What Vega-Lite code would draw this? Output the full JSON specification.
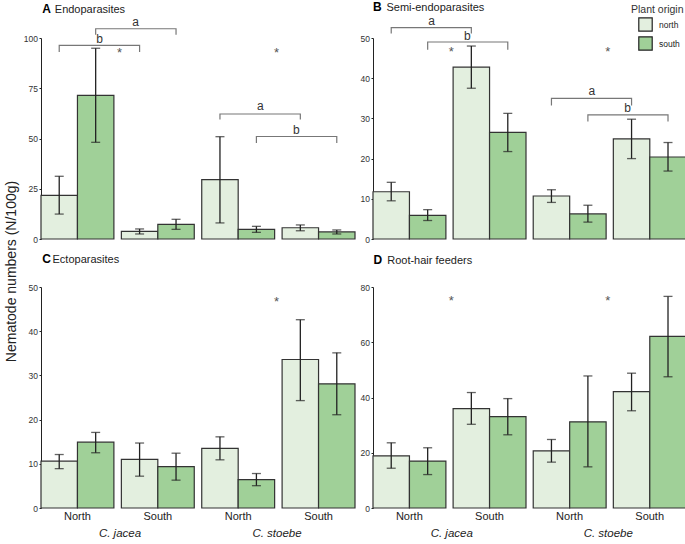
{
  "$schema": "https://vega.github.io/schema/vega-lite/v6.json",
  "padding": {"left": 4, "top": 0, "right": 0, "bottom": 0},
  "background": "white",
  "columns": 2,
  "bounds": "flush",
  "spacing": {"row": 48, "column": 18},
  "resolve": {"legend": {"color": "independent"}},
  "datasets": {
    "bars": [
      {"panel":"A","group":"C. jacea North","origin":"north","mean":21.7,"lo":12.4,"hi":31.2},
      {"panel":"A","group":"C. jacea North","origin":"south","mean":71.5,"lo":48.1,"hi":94.9},
      {"panel":"A","group":"C. jacea South","origin":"north","mean":3.8,"lo":2.5,"hi":5.0},
      {"panel":"A","group":"C. jacea South","origin":"south","mean":7.3,"lo":4.8,"hi":9.8},
      {"panel":"A","group":"C. stoebe North","origin":"north","mean":29.5,"lo":8.0,"hi":50.9},
      {"panel":"A","group":"C. stoebe North","origin":"south","mean":4.8,"lo":3.3,"hi":6.3},
      {"panel":"A","group":"C. stoebe South","origin":"north","mean":5.6,"lo":4.1,"hi":7.0},
      {"panel":"A","group":"C. stoebe South","origin":"south","mean":3.5,"lo":2.5,"hi":4.5},
      {"panel":"B","group":"C. jacea North","origin":"north","mean":11.75,"lo":9.5,"hi":14.1},
      {"panel":"B","group":"C. jacea North","origin":"south","mean":5.9,"lo":4.6,"hi":7.3},
      {"panel":"B","group":"C. jacea South","origin":"north","mean":42.75,"lo":37.5,"hi":48.0},
      {"panel":"B","group":"C. jacea South","origin":"south","mean":26.5,"lo":21.75,"hi":31.25},
      {"panel":"B","group":"C. stoebe North","origin":"north","mean":10.7,"lo":9.1,"hi":12.25},
      {"panel":"B","group":"C. stoebe North","origin":"south","mean":6.25,"lo":4.2,"hi":8.4},
      {"panel":"B","group":"C. stoebe South","origin":"north","mean":24.9,"lo":20.0,"hi":29.8},
      {"panel":"B","group":"C. stoebe South","origin":"south","mean":20.4,"lo":16.9,"hi":24.0},
      {"panel":"C","group":"C. jacea North","origin":"north","mean":10.6,"lo":8.9,"hi":12.1},
      {"panel":"C","group":"C. jacea North","origin":"south","mean":14.9,"lo":12.5,"hi":17.1},
      {"panel":"C","group":"C. jacea South","origin":"north","mean":11.0,"lo":7.2,"hi":14.7},
      {"panel":"C","group":"C. jacea South","origin":"south","mean":9.35,"lo":6.3,"hi":12.4},
      {"panel":"C","group":"C. stoebe North","origin":"north","mean":13.5,"lo":10.9,"hi":16.1},
      {"panel":"C","group":"C. stoebe North","origin":"south","mean":6.4,"lo":5.05,"hi":7.8},
      {"panel":"C","group":"C. stoebe South","origin":"north","mean":33.6,"lo":24.3,"hi":42.6},
      {"panel":"C","group":"C. stoebe South","origin":"south","mean":28.1,"lo":21.1,"hi":35.1},
      {"panel":"D","group":"C. jacea North","origin":"north","mean":18.9,"lo":14.4,"hi":23.6},
      {"panel":"D","group":"C. jacea North","origin":"south","mean":17.0,"lo":12.1,"hi":21.8},
      {"panel":"D","group":"C. jacea South","origin":"north","mean":36.0,"lo":30.3,"hi":41.8},
      {"panel":"D","group":"C. jacea South","origin":"south","mean":33.1,"lo":26.5,"hi":39.6},
      {"panel":"D","group":"C. stoebe North","origin":"north","mean":20.7,"lo":16.6,"hi":24.8},
      {"panel":"D","group":"C. stoebe North","origin":"south","mean":31.2,"lo":14.9,"hi":47.8},
      {"panel":"D","group":"C. stoebe South","origin":"north","mean":42.1,"lo":35.2,"hi":48.8},
      {"panel":"D","group":"C. stoebe South","origin":"south","mean":62.1,"lo":47.5,"hi":76.6}
    ],
    "brackets": [
      {"panel":"A","id":"A1","group":"C. jacea North","origin":"south","y":101.6,"k":1},
      {"panel":"A","id":"A1","group":"C. jacea North","origin":"south","y":104.6,"k":2},
      {"panel":"A","id":"A1","group":"C. jacea South","origin":"south","y":104.6,"k":3},
      {"panel":"A","id":"A1","group":"C. jacea South","origin":"south","y":101.6,"k":4},
      {"panel":"A","id":"A2","group":"C. jacea North","origin":"north","y":93.0,"k":1},
      {"panel":"A","id":"A2","group":"C. jacea North","origin":"north","y":96.3,"k":2},
      {"panel":"A","id":"A2","group":"C. jacea South","origin":"north","y":96.3,"k":3},
      {"panel":"A","id":"A2","group":"C. jacea South","origin":"north","y":93.0,"k":4},
      {"panel":"A","id":"A3","group":"C. stoebe North","origin":"north","y":59.4,"k":1},
      {"panel":"A","id":"A3","group":"C. stoebe North","origin":"north","y":62.2,"k":2},
      {"panel":"A","id":"A3","group":"C. stoebe South","origin":"north","y":62.2,"k":3},
      {"panel":"A","id":"A3","group":"C. stoebe South","origin":"north","y":59.4,"k":4},
      {"panel":"A","id":"A4","group":"C. stoebe North","origin":"south","y":47.8,"k":1},
      {"panel":"A","id":"A4","group":"C. stoebe North","origin":"south","y":51.0,"k":2},
      {"panel":"A","id":"A4","group":"C. stoebe South","origin":"south","y":51.0,"k":3},
      {"panel":"A","id":"A4","group":"C. stoebe South","origin":"south","y":47.8,"k":4},
      {"panel":"B","id":"B1","group":"C. jacea North","origin":"north","y":51.1,"k":1},
      {"panel":"B","id":"B1","group":"C. jacea North","origin":"north","y":52.6,"k":2},
      {"panel":"B","id":"B1","group":"C. jacea South","origin":"north","y":52.6,"k":3},
      {"panel":"B","id":"B1","group":"C. jacea South","origin":"north","y":51.1,"k":4},
      {"panel":"B","id":"B2","group":"C. jacea North","origin":"south","y":47.1,"k":1},
      {"panel":"B","id":"B2","group":"C. jacea North","origin":"south","y":49.0,"k":2},
      {"panel":"B","id":"B2","group":"C. jacea South","origin":"south","y":49.0,"k":3},
      {"panel":"B","id":"B2","group":"C. jacea South","origin":"south","y":47.1,"k":4},
      {"panel":"B","id":"B3","group":"C. stoebe North","origin":"north","y":33.2,"k":1},
      {"panel":"B","id":"B3","group":"C. stoebe North","origin":"north","y":35.0,"k":2},
      {"panel":"B","id":"B3","group":"C. stoebe South","origin":"north","y":35.0,"k":3},
      {"panel":"B","id":"B3","group":"C. stoebe South","origin":"north","y":33.2,"k":4},
      {"panel":"B","id":"B4","group":"C. stoebe North","origin":"south","y":29.2,"k":1},
      {"panel":"B","id":"B4","group":"C. stoebe North","origin":"south","y":30.9,"k":2},
      {"panel":"B","id":"B4","group":"C. stoebe South","origin":"south","y":30.9,"k":3},
      {"panel":"B","id":"B4","group":"C. stoebe South","origin":"south","y":29.2,"k":4}
    ],
    "letters": [
      {"panel":"A","group":"C. jacea South","origin":"north","y":106.1,"label":"a"},
      {"panel":"A","group":"C. jacea North","origin":"south","y":97.5,"label":"b"},
      {"panel":"A","group":"C. stoebe North","origin":"south","y":64.3,"label":"a"},
      {"panel":"A","group":"C. stoebe South","origin":"north","y":52.4,"label":"b"},
      {"panel":"B","group":"C. jacea North","origin":"south","y":53.3,"label":"a"},
      {"panel":"B","group":"C. jacea South","origin":"north","y":49.4,"label":"b"},
      {"panel":"B","group":"C. stoebe North","origin":"south","y":35.8,"label":"a"},
      {"panel":"B","group":"C. stoebe South","origin":"north","y":31.5,"label":"b"}
    ],
    "stars": [
      {"panel":"A","species":"C. jacea","y":90.5},
      {"panel":"A","species":"C. stoebe","y":90.5},
      {"panel":"B","species":"C. jacea","y":45.4},
      {"panel":"B","species":"C. stoebe","y":45.4},
      {"panel":"C","species":"C. stoebe","y":45.7},
      {"panel":"D","species":"C. jacea","y":73.5},
      {"panel":"D","species":"C. stoebe","y":73.5}
    ]
  },
  "concat": [
    {
      "width": 314, "height": 201,
      "resolve": {"scale": {"x": "independent"}, "axis": {"x": "independent"}},
      "layer": [
        {"layer": [
          {"data": {"name": "bars"}, "transform": [{"filter": "datum.panel == 'A'"}],
           "mark": {"type": "bar", "stroke": "#333", "strokeWidth": 1.2},
           "encoding": {
             "x": {"field": "group", "type": "nominal", "scale": {"domain": ["C. jacea North","C. jacea South","C. stoebe North","C. stoebe South"], "paddingInner": 0.093, "paddingOuter": 0},
               "axis": {"orient": "bottom", "labels": false, "domain": false, "ticks": false, "title": "A", "titleFontSize": 12, "titleFontWeight": "bold", "titleColor": "#000", "titleAngle": 0, "titleAlign": "left", "titleBaseline": "alphabetic", "titleX": 0.7, "titleY": -226.5}},
             "xOffset": {"field": "origin", "type": "nominal", "scale": {"domain": ["north","south"], "paddingInner": 0, "paddingOuter": 0}},
             "y": {"field": "mean", "type": "quantitative", "scale": {"domain": [0, 100], "nice": false}, "axis": {"values": [0,25,50,75,100], "title": null}},
             "color": {"field": "origin", "type": "nominal", "scale": {"domain": ["north","south"], "range": ["#e3efdf","#a0d098"]}, "legend": null}
           }},
          {"data": {"name": "bars"}, "transform": [{"filter": "datum.panel == 'A'"}],
           "mark": {"type": "rule", "color": "#222", "strokeWidth": 1.3},
           "encoding": {"x": {"field": "group", "type": "nominal"}, "xOffset": {"field": "origin", "type": "nominal"}, "y": {"field": "lo", "type": "quantitative"}, "y2": {"field": "hi"}}},
          {"data": {"name": "bars"}, "transform": [{"filter": "datum.panel == 'A'"}],
           "mark": {"type": "tick", "orient": "horizontal", "color": "#222", "size": 9, "thickness": 1.3},
           "encoding": {"x": {"field": "group", "type": "nominal"}, "xOffset": {"field": "origin", "type": "nominal"}, "y": {"field": "lo", "type": "quantitative"}}},
          {"data": {"name": "bars"}, "transform": [{"filter": "datum.panel == 'A'"}],
           "mark": {"type": "tick", "orient": "horizontal", "color": "#222", "size": 9, "thickness": 1.3},
           "encoding": {"x": {"field": "group", "type": "nominal"}, "xOffset": {"field": "origin", "type": "nominal"}, "y": {"field": "hi", "type": "quantitative"}}},
          {"data": {"name": "brackets"}, "transform": [{"filter": "datum.panel == 'A'"}],
           "mark": {"type": "line", "color": "#777", "strokeWidth": 1.2},
           "encoding": {"x": {"field": "group", "type": "nominal"}, "xOffset": {"field": "origin", "type": "nominal"}, "y": {"field": "y", "type": "quantitative"}, "detail": {"field": "id"}, "order": {"field": "k"}}},
          {"data": {"name": "letters"}, "transform": [{"filter": "datum.panel == 'A' && datum.origin == 'south'"}],
           "mark": {"type": "text", "fontSize": 12, "color": "#333", "baseline": "alphabetic", "dx": 4},
           "encoding": {"x": {"field": "group", "type": "nominal"}, "xOffset": {"field": "origin", "type": "nominal"}, "y": {"field": "y", "type": "quantitative"}, "text": {"field": "label"}}},
          {"data": {"name": "letters"}, "transform": [{"filter": "datum.panel == 'A' && datum.origin == 'north'"}],
           "mark": {"type": "text", "fontSize": 12, "color": "#333", "baseline": "alphabetic", "dx": -4},
           "encoding": {"x": {"field": "group", "type": "nominal"}, "xOffset": {"field": "origin", "type": "nominal"}, "y": {"field": "y", "type": "quantitative"}, "text": {"field": "label"}}}
        ]},
        {"data": {"name": "stars"}, "transform": [{"filter": "datum.panel == 'A'"}],
         "mark": {"type": "text", "text": "*", "fontSize": 13, "color": "#555", "baseline": "alphabetic"},
         "encoding": {"x": {"field": "species", "type": "nominal", "scale": {"domain": ["C. jacea","C. stoebe"], "paddingInner": 0.0467, "paddingOuter": 0},
           "axis": {"orient": "bottom", "labels": false, "domain": false, "ticks": false, "title": "Endoparasites", "titleFontSize": 11, "titleFontWeight": "normal", "titleColor": "#222", "titleAngle": 0, "titleAlign": "left", "titleBaseline": "alphabetic", "titleX": 13.3, "titleY": -226.5}},
           "y": {"field": "y", "type": "quantitative"}}}
      ]
    },
    {
      "width": 313, "height": 201,
      "resolve": {"scale": {"x": "independent"}, "axis": {"x": "independent"}},
      "layer": [
        {"layer": [
          {"data": {"name": "bars"}, "transform": [{"filter": "datum.panel == 'B'"}],
           "mark": {"type": "bar", "stroke": "#333", "strokeWidth": 1.2},
           "encoding": {
             "x": {"field": "group", "type": "nominal", "scale": {"domain": ["C. jacea North","C. jacea South","C. stoebe North","C. stoebe South"], "paddingInner": 0.093, "paddingOuter": 0},
               "axis": {"orient": "bottom", "labels": false, "domain": false, "ticks": false, "title": "B", "titleFontSize": 12, "titleFontWeight": "bold", "titleColor": "#000", "titleAngle": 0, "titleAlign": "left", "titleBaseline": "alphabetic", "titleX": -0.5, "titleY": -228.3}},
             "xOffset": {"field": "origin", "type": "nominal", "scale": {"domain": ["north","south"], "paddingInner": 0, "paddingOuter": 0}},
             "y": {"field": "mean", "type": "quantitative", "scale": {"domain": [0, 50], "nice": false}, "axis": {"values": [0,10,20,30,40,50], "title": null}},
             "color": {"field": "origin", "type": "nominal", "scale": {"domain": ["north","south"], "range": ["#e3efdf","#a0d098"]},
               "legend": {"title": "Plant origin", "orient": "none", "legendX": 258, "legendY": -33.5, "padding": 0, "titleFontSize": 10.5, "titleFontWeight": "normal", "titleColor": "#333", "titlePadding": 2, "labelFontSize": 8.5, "labelColor": "#222", "labelOffset": 6, "symbolType": "square", "symbolSize": 180, "symbolStrokeColor": "#222", "symbolStrokeWidth": 1.2, "symbolOpacity": 1, "rowPadding": 0, "symbolOffset": 7}}
           }},
          {"data": {"name": "bars"}, "transform": [{"filter": "datum.panel == 'B'"}],
           "mark": {"type": "rule", "color": "#222", "strokeWidth": 1.3},
           "encoding": {"x": {"field": "group", "type": "nominal"}, "xOffset": {"field": "origin", "type": "nominal"}, "y": {"field": "lo", "type": "quantitative"}, "y2": {"field": "hi"}}},
          {"data": {"name": "bars"}, "transform": [{"filter": "datum.panel == 'B'"}],
           "mark": {"type": "tick", "orient": "horizontal", "color": "#222", "size": 9, "thickness": 1.3},
           "encoding": {"x": {"field": "group", "type": "nominal"}, "xOffset": {"field": "origin", "type": "nominal"}, "y": {"field": "lo", "type": "quantitative"}}},
          {"data": {"name": "bars"}, "transform": [{"filter": "datum.panel == 'B'"}],
           "mark": {"type": "tick", "orient": "horizontal", "color": "#222", "size": 9, "thickness": 1.3},
           "encoding": {"x": {"field": "group", "type": "nominal"}, "xOffset": {"field": "origin", "type": "nominal"}, "y": {"field": "hi", "type": "quantitative"}}},
          {"data": {"name": "brackets"}, "transform": [{"filter": "datum.panel == 'B'"}],
           "mark": {"type": "line", "color": "#777", "strokeWidth": 1.2},
           "encoding": {"x": {"field": "group", "type": "nominal"}, "xOffset": {"field": "origin", "type": "nominal"}, "y": {"field": "y", "type": "quantitative"}, "detail": {"field": "id"}, "order": {"field": "k"}}},
          {"data": {"name": "letters"}, "transform": [{"filter": "datum.panel == 'B' && datum.origin == 'south'"}],
           "mark": {"type": "text", "fontSize": 12, "color": "#333", "baseline": "alphabetic", "dx": 4},
           "encoding": {"x": {"field": "group", "type": "nominal"}, "xOffset": {"field": "origin", "type": "nominal"}, "y": {"field": "y", "type": "quantitative"}, "text": {"field": "label"}}},
          {"data": {"name": "letters"}, "transform": [{"filter": "datum.panel == 'B' && datum.origin == 'north'"}],
           "mark": {"type": "text", "fontSize": 12, "color": "#333", "baseline": "alphabetic", "dx": -4},
           "encoding": {"x": {"field": "group", "type": "nominal"}, "xOffset": {"field": "origin", "type": "nominal"}, "y": {"field": "y", "type": "quantitative"}, "text": {"field": "label"}}}
        ]},
        {"data": {"name": "stars"}, "transform": [{"filter": "datum.panel == 'B'"}],
         "mark": {"type": "text", "text": "*", "fontSize": 13, "color": "#555", "baseline": "alphabetic"},
         "encoding": {"x": {"field": "species", "type": "nominal", "scale": {"domain": ["C. jacea","C. stoebe"], "paddingInner": 0.0467, "paddingOuter": 0},
           "axis": {"orient": "bottom", "labels": false, "domain": false, "ticks": false, "title": "Semi-endoparasites", "titleFontSize": 11, "titleFontWeight": "normal", "titleColor": "#222", "titleAngle": 0, "titleAlign": "left", "titleBaseline": "alphabetic", "titleX": 13, "titleY": -228.3}},
           "y": {"field": "y", "type": "quantitative"}}}
      ]
    },
    {
      "width": 314, "height": 221,
      "resolve": {"scale": {"x": "independent"}, "axis": {"x": "independent"}},
      "layer": [
        {"layer": [
          {"data": {"name": "bars"}, "transform": [{"filter": "datum.panel == 'C'"}],
           "mark": {"type": "bar", "stroke": "#333", "strokeWidth": 1.2},
           "encoding": {
             "x": {"field": "group", "type": "nominal", "scale": {"domain": ["C. jacea North","C. jacea South","C. stoebe North","C. stoebe South"], "paddingInner": 0.093, "paddingOuter": 0},
               "axis": {"orient": "bottom", "labelExpr": "split(datum.label, ' ')[2]", "domain": false, "ticks": false, "labelFontSize": 11, "labelColor": "#222", "labelPadding": 2, "labelAngle": 0,
                 "title": "C", "titleFontSize": 12, "titleFontWeight": "bold", "titleColor": "#000", "titleAngle": 0, "titleAlign": "left", "titleBaseline": "alphabetic", "titleX": 0.7, "titleY": -245.3}},
             "xOffset": {"field": "origin", "type": "nominal", "scale": {"domain": ["north","south"], "paddingInner": 0, "paddingOuter": 0}},
             "y": {"field": "mean", "type": "quantitative", "scale": {"domain": [0, 50], "nice": false}, "axis": {"values": [0,10,20,30,40,50], "title": "Nematode numbers (N/100g)", "titleFontSize": 14, "titleFontWeight": "normal", "titleColor": "#222", "titleY": -16, "titlePadding": 10}},
             "color": {"field": "origin", "type": "nominal", "scale": {"domain": ["north","south"], "range": ["#e3efdf","#a0d098"]}, "legend": null}
           }},
          {"data": {"name": "bars"}, "transform": [{"filter": "datum.panel == 'C'"}],
           "mark": {"type": "rule", "color": "#222", "strokeWidth": 1.3},
           "encoding": {"x": {"field": "group", "type": "nominal"}, "xOffset": {"field": "origin", "type": "nominal"}, "y": {"field": "lo", "type": "quantitative"}, "y2": {"field": "hi"}}},
          {"data": {"name": "bars"}, "transform": [{"filter": "datum.panel == 'C'"}],
           "mark": {"type": "tick", "orient": "horizontal", "color": "#222", "size": 9, "thickness": 1.3},
           "encoding": {"x": {"field": "group", "type": "nominal"}, "xOffset": {"field": "origin", "type": "nominal"}, "y": {"field": "lo", "type": "quantitative"}}},
          {"data": {"name": "bars"}, "transform": [{"filter": "datum.panel == 'C'"}],
           "mark": {"type": "tick", "orient": "horizontal", "color": "#222", "size": 9, "thickness": 1.3},
           "encoding": {"x": {"field": "group", "type": "nominal"}, "xOffset": {"field": "origin", "type": "nominal"}, "y": {"field": "hi", "type": "quantitative"}}}
        ]},
        {"data": {"name": "stars"}, "transform": [{"filter": "datum.panel == 'C'"}],
         "mark": {"type": "text", "text": "*", "fontSize": 13, "color": "#555", "baseline": "alphabetic"},
         "encoding": {"x": {"field": "species", "type": "nominal", "scale": {"domain": ["C. jacea","C. stoebe"], "paddingInner": 0.0467, "paddingOuter": 0},
           "axis": {"orient": "bottom", "domain": false, "ticks": false, "labelFontStyle": "italic", "labelFontSize": 11.5, "labelColor": "#222", "labelPadding": 19.5, "labelAngle": 0,
             "title": "Ectoparasites", "titleFontSize": 11, "titleFontWeight": "normal", "titleColor": "#222", "titleAngle": 0, "titleAlign": "left", "titleBaseline": "alphabetic", "titleX": 11, "titleY": -245.3}},
           "y": {"field": "y", "type": "quantitative"}}}
      ]
    },
    {
      "width": 313, "height": 221,
      "resolve": {"scale": {"x": "independent"}, "axis": {"x": "independent"}},
      "layer": [
        {"layer": [
          {"data": {"name": "bars"}, "transform": [{"filter": "datum.panel == 'D'"}],
           "mark": {"type": "bar", "stroke": "#333", "strokeWidth": 1.2},
           "encoding": {
             "x": {"field": "group", "type": "nominal", "scale": {"domain": ["C. jacea North","C. jacea South","C. stoebe North","C. stoebe South"], "paddingInner": 0.093, "paddingOuter": 0},
               "axis": {"orient": "bottom", "labelExpr": "split(datum.label, ' ')[2]", "domain": false, "ticks": false, "labelFontSize": 11, "labelColor": "#222", "labelPadding": 2, "labelAngle": 0,
                 "title": "D", "titleFontSize": 12, "titleFontWeight": "bold", "titleColor": "#000", "titleAngle": 0, "titleAlign": "left", "titleBaseline": "alphabetic", "titleX": 0, "titleY": -244.5}},
             "xOffset": {"field": "origin", "type": "nominal", "scale": {"domain": ["north","south"], "paddingInner": 0, "paddingOuter": 0}},
             "y": {"field": "mean", "type": "quantitative", "scale": {"domain": [0, 80], "nice": false}, "axis": {"values": [0,20,40,60,80], "title": null}},
             "color": {"field": "origin", "type": "nominal", "scale": {"domain": ["north","south"], "range": ["#e3efdf","#a0d098"]}, "legend": null}
           }},
          {"data": {"name": "bars"}, "transform": [{"filter": "datum.panel == 'D'"}],
           "mark": {"type": "rule", "color": "#222", "strokeWidth": 1.3},
           "encoding": {"x": {"field": "group", "type": "nominal"}, "xOffset": {"field": "origin", "type": "nominal"}, "y": {"field": "lo", "type": "quantitative"}, "y2": {"field": "hi"}}},
          {"data": {"name": "bars"}, "transform": [{"filter": "datum.panel == 'D'"}],
           "mark": {"type": "tick", "orient": "horizontal", "color": "#222", "size": 9, "thickness": 1.3},
           "encoding": {"x": {"field": "group", "type": "nominal"}, "xOffset": {"field": "origin", "type": "nominal"}, "y": {"field": "lo", "type": "quantitative"}}},
          {"data": {"name": "bars"}, "transform": [{"filter": "datum.panel == 'D'"}],
           "mark": {"type": "tick", "orient": "horizontal", "color": "#222", "size": 9, "thickness": 1.3},
           "encoding": {"x": {"field": "group", "type": "nominal"}, "xOffset": {"field": "origin", "type": "nominal"}, "y": {"field": "hi", "type": "quantitative"}}}
        ]},
        {"data": {"name": "stars"}, "transform": [{"filter": "datum.panel == 'D'"}],
         "mark": {"type": "text", "text": "*", "fontSize": 13, "color": "#555", "baseline": "alphabetic"},
         "encoding": {"x": {"field": "species", "type": "nominal", "scale": {"domain": ["C. jacea","C. stoebe"], "paddingInner": 0.0467, "paddingOuter": 0},
           "axis": {"orient": "bottom", "domain": false, "ticks": false, "labelFontStyle": "italic", "labelFontSize": 11.5, "labelColor": "#222", "labelPadding": 19.5, "labelAngle": 0,
             "title": "Root-hair feeders", "titleFontSize": 11, "titleFontWeight": "normal", "titleColor": "#222", "titleAngle": 0, "titleAlign": "left", "titleBaseline": "alphabetic", "titleX": 13.7, "titleY": -244.5}},
           "y": {"field": "y", "type": "quantitative"}}}
      ]
    }
  ],
  "config": {
    "font": "Liberation Sans",
    "view": {"stroke": null},
    "axis": {"grid": false, "domainColor": "#222", "domainWidth": 1, "tickColor": "#222", "tickSize": 2, "tickWidth": 1, "labelFontSize": 8.5, "labelColor": "#333", "labelPadding": 1.5}
  }
}
